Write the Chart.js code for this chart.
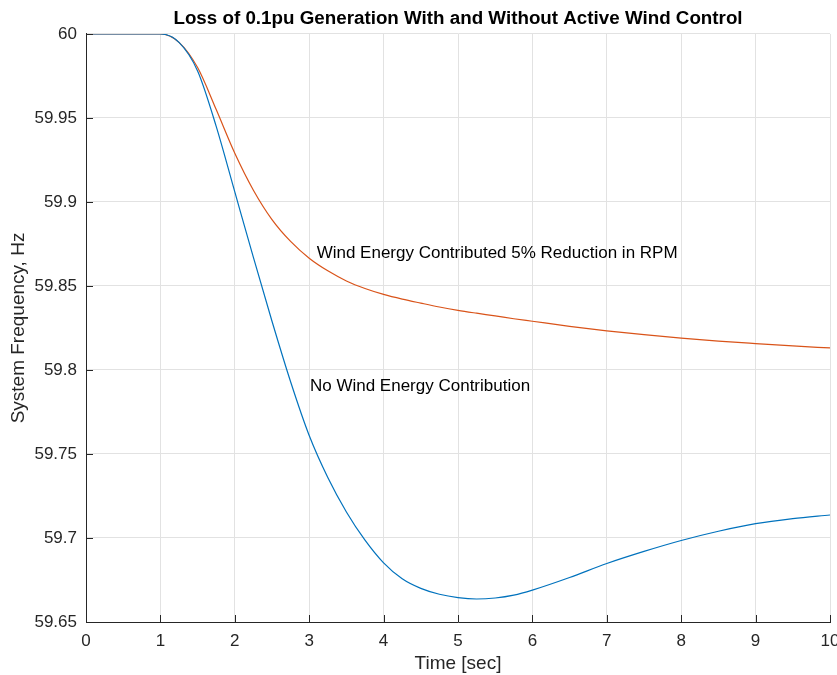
<!DOCTYPE html>
<html>
<head>
<meta charset="utf-8">
<script src="https://cdn.jsdelivr.net/npm/chart.js@4.4.1/dist/chart.umd.min.js"></script>
<style>
  html, body { margin: 0; padding: 0; background: #fff; }
  canvas { display: block; }
</style>
</head>
<body>
<canvas id="myChart" width="837" height="675"></canvas>
<script>
const time = [0, 0.5, 1, 1.25, 1.5, 1.75, 2, 2.25, 2.5, 2.75, 3, 3.25, 3.5, 3.75, 4, 4.25, 4.5, 4.75, 5, 5.25, 5.5, 5.75, 6, 6.5, 7, 7.5, 8, 8.5, 9, 9.5, 10]
const noWind = [60, 60, 60, 59.995, 59.978, 59.945, 59.906, 59.867, 59.829, 59.793, 59.761, 59.736, 59.7155, 59.6987, 59.6852, 59.6757, 59.67, 59.6665, 59.6645, 59.6637, 59.6643, 59.666, 59.669, 59.6765, 59.6848, 59.692, 59.6985, 59.704, 59.7085, 59.7115, 59.7137]
const withWind = [60, 60, 60, 59.995, 59.980, 59.955, 59.929, 59.907, 59.8895, 59.8765, 59.8665, 59.859, 59.853, 59.8485, 59.845, 59.8422, 59.8398, 59.8375, 59.8355, 59.8338, 59.8322, 59.8305, 59.829, 59.826, 59.8233, 59.821, 59.819, 59.8172, 59.8157, 59.8143, 59.8131]
const xTicks = [0, 1, 2, 3, 4, 5, 6, 7, 8, 9, 10]
const yTicks = [59.65, 59.7, 59.75, 59.8, 59.85, 59.9, 59.95, 60]
const notes = [
    {text: 'Wind Energy Contributed 5% Reduction in RPM', x: 3.1, y: 59.8696},
    {text: 'No Wind Energy Contribution', x: 3.01, y: 59.79}
]

const fontFam = '"Liberation Sans", Arial, Helvetica, sans-serif'
const axisCol = '#262626'
const gridCol = '#e2e2e2'

function toPts(ys){
    return time.map((t, i) => ({x: t, y: ys[i]}))
}

const extras = {
    id: 'extras',
    afterLayout(chart){
        // centre the title over the plot box, like matlab does
        chart.titleBlock.left = chart.chartArea.left
        chart.titleBlock.right = chart.chartArea.right
    },
    afterDatasetsDraw(chart){
        const ctx = chart.ctx
        const xs = chart.scales.x
        const ys = chart.scales.y
        const area = chart.chartArea
        ctx.save()
        ctx.strokeStyle = axisCol
        ctx.lineWidth = 1
        ctx.beginPath()
        xTicks.forEach(v => {
            const px = Math.round(xs.getPixelForValue(v)) + 0.5
            ctx.moveTo(px, area.bottom)
            ctx.lineTo(px, area.bottom - 7)
        })
        yTicks.forEach(v => {
            const py = Math.round(ys.getPixelForValue(v)) + 0.5
            ctx.moveTo(area.left, py)
            ctx.lineTo(area.left + 7, py)
        })
        ctx.stroke()
        ctx.fillStyle = '#000'
        ctx.font = '17px ' + fontFam
        ctx.textAlign = 'left'
        ctx.textBaseline = 'middle'
        notes.forEach(n => {
            ctx.fillText(n.text, xs.getPixelForValue(n.x), ys.getPixelForValue(n.y))
        })
        ctx.restore()
    }
}

const ctx = document.getElementById('myChart').getContext('2d')
const myChart = new Chart(ctx, {
    type: 'line',
    data: {
        datasets: [{
            label: 'No Wind Energy Contribution',
            data: toPts(noWind),
            borderColor: '#0072BD',
            borderWidth: 1.2,
            pointRadius: 0,
            cubicInterpolationMode: 'monotone'
        }, {
            label: 'Wind Energy Contributed 5% Reduction in RPM',
            data: toPts(withWind),
            borderColor: '#D95319',
            borderWidth: 1.2,
            pointRadius: 0,
            cubicInterpolationMode: 'monotone'
        }]
    },
    options: {
        responsive: false,
        animation: false,
        devicePixelRatio: 1,
        layout: {padding: {left: 0, right: 7, top: 0, bottom: 0}},
        plugins: {
            legend: {display: false},
            tooltip: {enabled: false},
            title: {
                display: true,
                text: 'Loss of 0.1pu Generation With and Without Active Wind Control',
                color: '#000',
                font: {family: fontFam, size: 18.8, weight: 'bold'},
                padding: {top: 8, bottom: 3.4}
            }
        },
        scales: {
            x: {
                type: 'linear',
                min: 0,
                max: 10,
                afterBuildTicks: s => { s.ticks = xTicks.map(v => ({value: v})) },
                afterFit: s => { s.height = 53; s.paddingRight = 0 },
                ticks: {color: axisCol, font: {family: fontFam, size: 17}, padding: 9, maxRotation: 0},
                grid: {color: gridCol, drawTicks: false},
                border: {display: true, color: axisCol, width: 1},
                title: {display: true, text: 'Time [sec]', color: axisCol, font: {family: fontFam, size: 19}, padding: {top: 0, bottom: 0}}
            },
            y: {
                type: 'linear',
                min: 59.65,
                max: 60,
                afterBuildTicks: s => { s.ticks = yTicks.map(v => ({value: v})) },
                afterFit: s => { s.width = 86 },
                ticks: {color: axisCol, font: {family: fontFam, size: 17}, padding: 9, callback: v => String(+v.toFixed(2))},
                grid: {color: gridCol, drawTicks: false},
                border: {display: true, color: axisCol, width: 1},
                title: {display: true, text: 'System Frequency, Hz', color: axisCol, font: {family: fontFam, size: 19}, padding: {top: 7, bottom: 0}}
            }
        }
    },
    plugins: [extras]
})
</script>
</body>
</html>
